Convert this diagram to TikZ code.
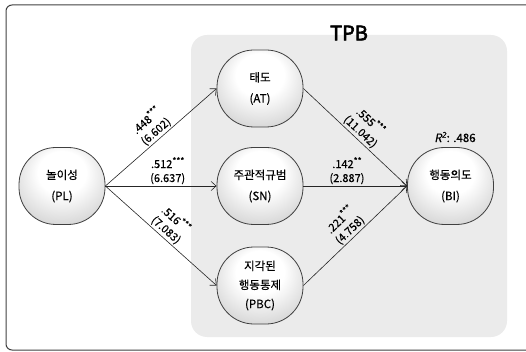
\documentclass[tikz,border=0pt]{standalone}
\usepackage{fontspec}
\setmainfont{Noto Sans CJK KR}[FakeBold=0.4,AutoFakeSlant=0.2,AutoFakeBold=3]
\usetikzlibrary{arrows.meta}
\pgfdeclareradialshading{nodeshade}{\pgfpoint{0bp}{12bp}}{color(0bp)=(white); color(14bp)=(white); color(34bp)=(gray!38); color(50bp)=(gray!60)}
\tikzset{
  construct/.style={draw=black!75, line width=0.8pt, shading=nodeshade, rounded corners=37pt,
    minimum width=86pt, minimum height=77pt, inner sep=0pt, align=center,
    font=\fontsize{11.5pt}{21pt}\selectfont},
  path/.style={draw=black!85, line width=0.6pt, -{Straight Barb[length=5pt,width=9pt]}},
  coef/.style={sloped, above, align=center, inner sep=1.5pt, font=\fontsize{11pt}{14pt}\selectfont},
}
\newcommand{\sig}[1]{\raisebox{0.38em}{\fontsize{8.5pt}{8.5pt}\selectfont #1}}
\begin{document}
\begin{tikzpicture}[x=1pt,y=-1pt]
\useasboundingbox (0,0) rectangle (526,352);
\draw[draw=black!75, line width=1pt, rounded corners=6pt] (6,5) rectangle (545,350);
\fill[black!8, rounded corners=16pt] (191,35) rectangle (507,337);
\node[font=\fontsize{20pt}{24pt}\selectfont\bfseries] (tpb) at (349,33) {TPB};
\node[construct] (PL) at (62,186) {놀이성\\(PL)};
\node[construct] (AT) at (260,88.5) {태도\\(AT)};
\node[construct] (SN) at (260,186) {주관적규범\\(SN)};
\node[construct, font=\fontsize{11.5pt}{19pt}\selectfont] (PBC) at (260,285.5) {지각된\\행동통제\\(PBC)};
\node[construct] (BI) at (450.5,186) {행동의도\\(BI)};
\node[font=\fontsize{11.5pt}{13pt}\selectfont] (r2) at (455,137) {\itshape R\textsuperscript{2}\upshape: .486};
\draw[path] (PL.east) -- node[coef, pos=0.5] {.448\sig{***}\\(6.602)} (AT.west);
\draw[path] (PL.east) -- node[coef, pos=0.56] {.512\sig{***}\\(6.637)} (SN.west);
\draw[path] (PL.east) -- node[coef, pos=0.5] {.516\sig{***}\\(7.083)} (PBC.west);
\draw[path] (AT.east) -- node[coef, pos=0.5] {.555\sig{***}\\(11.042)} (BI.west);
\draw[path] (SN.east) -- node[coef, pos=0.42] {.142\sig{**}\\(2.887)} (BI.west);
\draw[path] (PBC.east) -- node[coef, pos=0.5] {.221\sig{***}\\(4.758)} (BI.west);
\end{tikzpicture}
\end{document}
